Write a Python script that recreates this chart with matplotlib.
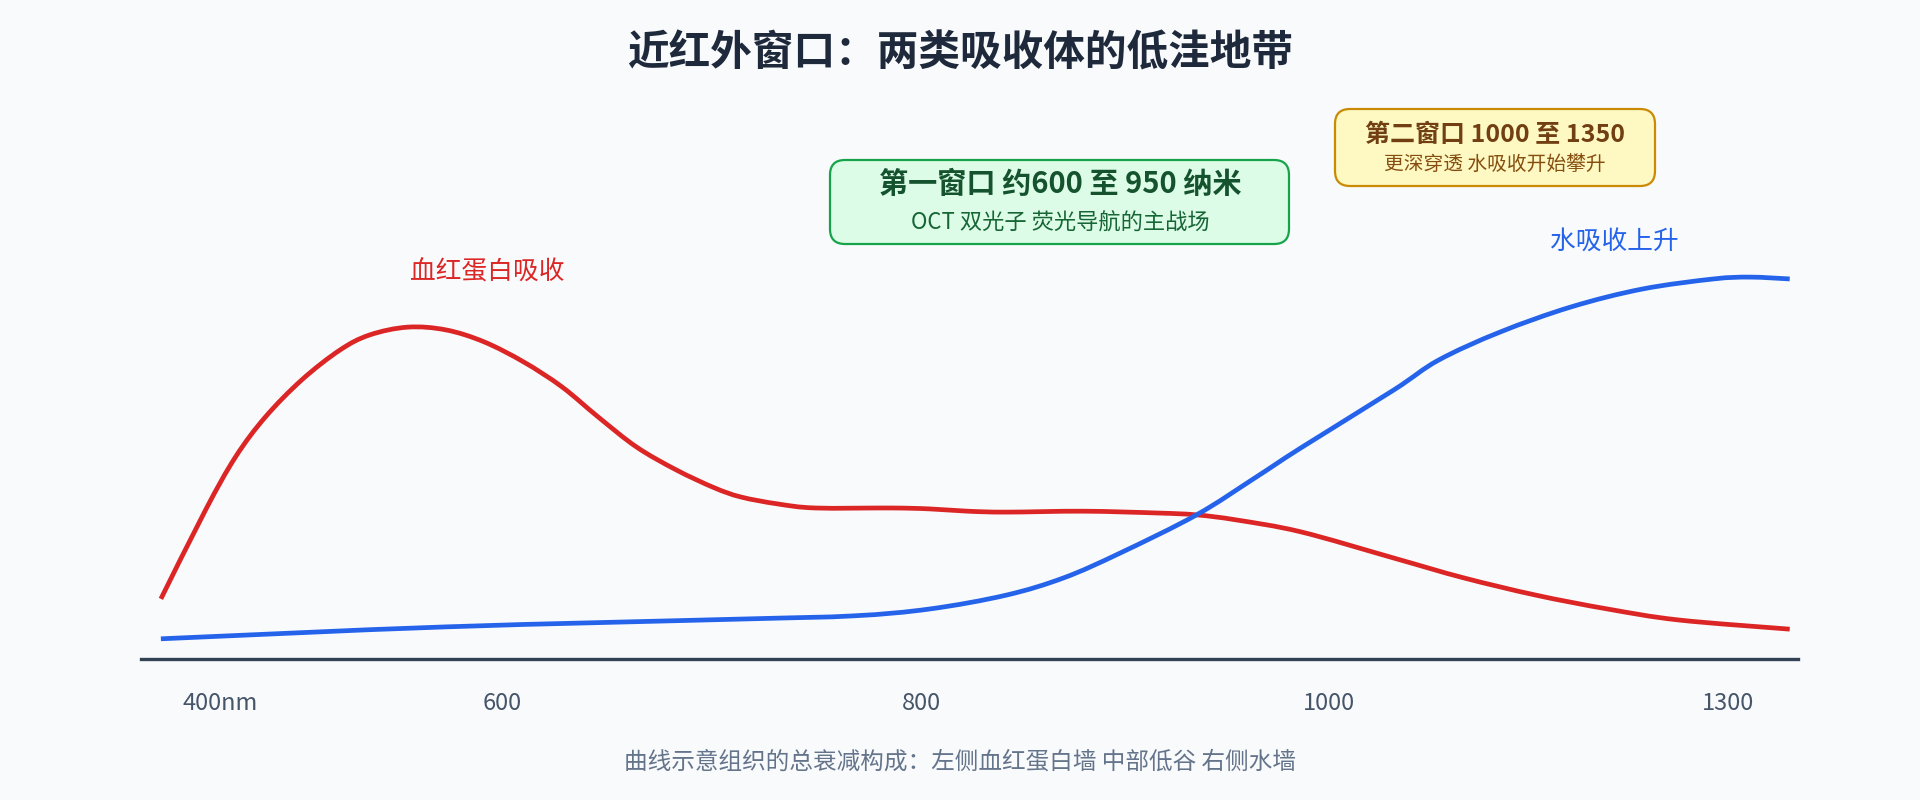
import matplotlib
matplotlib.use("Agg")
import matplotlib.pyplot as plt
import numpy as np
from matplotlib.patches import FancyBboxPatch, PathPatch
from matplotlib.path import Path

plt.rcParams['font.family'] = ['Noto Sans CJK SC', 'DejaVu Sans']

# relative position along the band (0-100) and relative absorption (0-100)
hb_x = [1.2, 3.9, 5.7, 7.5, 9.7, 12.0, 13.8, 16.1, 18.4, 20.7, 23.1,
        25.4, 27.6, 29.9, 32.3, 34.6, 36.2, 38.4, 40.7, 45.3, 47.6, 49.9,
        52.2, 56.9, 61.4, 63.7, 66.1, 70.0, 75.6, 79.8, 84.2, 88.5,
        92.8, 99.5]
hb_y = [13.1, 32.5, 44.0, 52.7, 60.8, 67.3, 70.6, 72.3, 71.7, 69.1, 64.7,
        59.3, 52.7, 46.2, 41.2, 37.3, 35.3, 33.8, 32.9, 32.9, 32.7, 32.2,
        32.0, 32.2, 31.8, 31.4, 30.3, 27.7, 22.0, 17.7, 13.9, 10.9,
        8.5, 6.5]

water_x = [1.2, 18.4, 36.2, 43.0, 47.6, 52.2, 55.7, 59.1, 63.7, 67.2, 70.0,
           75.6, 78.3, 82.0, 86.3, 90.6, 94.9, 97.1, 99.5]
water_y = [4.4, 7.0, 8.7, 9.4, 10.9, 13.9, 17.7, 23.1, 31.4, 39.4, 46.0,
           58.6, 65.1, 71.2, 76.7, 80.6, 82.8, 83.2, 82.8]

tick_pos = [4.8, 21.8, 47.1, 71.7, 95.8]
tick_labels = ['400nm', '600', '800', '1000', '1300']

RED = '#dc2626'
BLUE = '#2563eb'
BG = '#f8fafc'


def smooth_path(xs, ys):
    """catmull-rom curve through the points, as cubic bezier segments"""
    p = np.column_stack([xs, ys]).astype(float)
    p = np.vstack([p[0], p, p[-1]])
    verts = [p[1]]
    codes = [Path.MOVETO]
    for i in range(1, len(p) - 2):
        c1 = p[i] + (p[i + 1] - p[i - 1]) / 6
        c2 = p[i + 1] - (p[i + 2] - p[i]) / 6
        verts += [c1, c2, p[i + 1]]
        codes += [Path.CURVE4] * 3
    return Path(verts, codes)


fig = plt.figure(figsize=(19.2, 8), dpi=100, facecolor=BG)

# overlay in pixel units for the callout boxes
over = fig.add_axes([0, 0, 1, 1])
over.set_xlim(0, 1920)
over.set_ylim(800, 0)
over.axis('off')
over.set_facecolor('none')

ax = fig.add_axes([141 / 1920, (800 - 659) / 800, 1657 / 1920, 459 / 800])
ax.set_facecolor('none')
ax.set_xlim(0, 100)
ax.set_ylim(0, 100)

for xs, ys, col in [(hb_x, hb_y, RED), (water_x, water_y, BLUE)]:
    ax.add_patch(PathPatch(smooth_path(xs, ys), fill=False, edgecolor=col,
                           lw=3.4, capstyle='butt', joinstyle='round'))

ax.text(20.9, 84.3, '血红蛋白吸收', color=RED, fontsize=18.5,
        ha='center', va='center')
ax.text(88.9, 90.9, '水吸收上升', color=BLUE, fontsize=18.5,
        ha='center', va='center')

for side in ['top', 'left', 'right']:
    ax.spines[side].set_visible(False)
ax.spines['bottom'].set_color('#334155')
ax.spines['bottom'].set_linewidth(2.4)
ax.set_yticks([])
ax.set_xticks(tick_pos)
ax.set_xticklabels(tick_labels)
ax.tick_params(axis='x', length=0, pad=24, labelsize=17, labelcolor='#475569')

# callout boxes
green = FancyBboxPatch((830, 160), 459, 84, boxstyle='round,pad=0,rounding_size=15',
                       facecolor='#dcfce7', edgecolor='#16a34a', lw=1.6)
over.add_patch(green)
over.text(1060, 184, '第一窗口 约600 至 950 纳米', color='#14532d',
          fontsize=21, fontweight='bold', ha='center', va='center')
over.text(1060, 223, 'OCT 双光子 荧光导航的主战场', color='#166534',
          fontsize=16, ha='center', va='center')

yellow = FancyBboxPatch((1335, 109), 320, 77, boxstyle='round,pad=0,rounding_size=15',
                        facecolor='#fef9c3', edgecolor='#ca8a04', lw=1.6)
over.add_patch(yellow)
over.text(1495, 135, '第二窗口 1000 至 1350', color='#713f12',
          fontsize=18, fontweight='bold', ha='center', va='center')
over.text(1495, 165, '更深穿透 水吸收开始攀升', color='#854d0e',
          fontsize=14.2, ha='center', va='center')

fig.text(0.5, 1 - 53 / 800, '近红外窗口：两类吸收体的低洼地带', color='#1e293b',
         fontsize=30, fontweight='bold', ha='center', va='center')
fig.text(0.5, 1 - 762 / 800, '曲线示意组织的总衰减构成：左侧血红蛋白墙 中部低谷 右侧水墙',
         color='#64748b', fontsize=17, ha='center', va='center')

fig.savefig('out.png', dpi=100, facecolor=BG)
